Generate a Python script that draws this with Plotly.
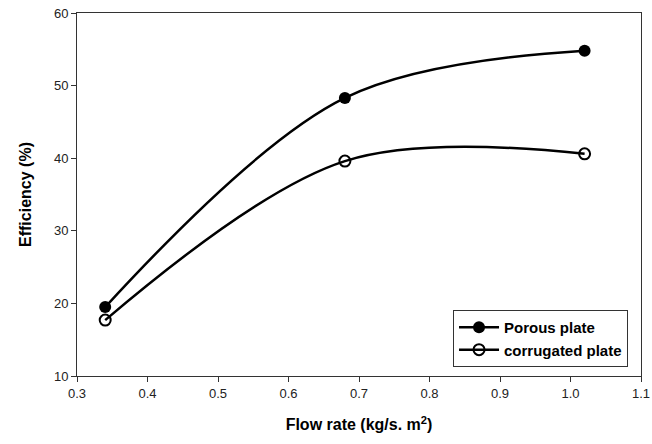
import plotly.graph_objects as go

flow_rate = [0.34, 0.68, 1.02]
porous = [19.5, 48.3, 54.8]
corrugated = [17.7, 39.6, 40.6]

x_ticks = [0.3, 0.4, 0.5, 0.6, 0.7, 0.8, 0.9, 1.0, 1.1]
x_tick_labels = ["0.3", "0.4", "0.5", "0.6", "0.7", "0.8", "0.9", "1.0", "1.1"]
y_ticks = [10, 20, 30, 40, 50, 60]

FONT = "Liberation Sans, Arial, sans-serif"

fig = go.Figure()
fig.add_trace(go.Scatter(
    x=flow_rate, y=porous, name="<b>Porous plate</b>", mode="lines+markers",
    line=dict(color="black", width=2.5, shape="spline", smoothing=1.0),
    marker=dict(symbol="circle", size=12, color="black"),
))
fig.add_trace(go.Scatter(
    x=flow_rate, y=corrugated, name="<b>corrugated plate</b>", mode="lines+markers",
    line=dict(color="black", width=2.5, shape="spline", smoothing=1.0),
    marker=dict(symbol="circle-open", size=11, color="black", line=dict(width=2, color="black")),
))

axis_common = dict(showline=True, linecolor="#333", linewidth=1, mirror=True,
                   ticks="outside", ticklen=5, tickcolor="#333", showgrid=False,
                   zeroline=False, automargin=False, ticklabeloverflow="allow",
                   tickfont=dict(family=FONT, size=13, color="#222"))

fig.update_layout(
    width=652, height=444,
    margin=dict(l=77, r=11, t=13, b=68),
    plot_bgcolor="white", paper_bgcolor="white",
    font=dict(family=FONT, color="black"),
    xaxis=dict(range=[0.3, 1.1], tickvals=x_ticks, ticktext=x_tick_labels,
               title=dict(text="<b>Flow rate (kg/s. m<sup>2</sup>)</b>", font=dict(size=16), standoff=19),
               **axis_common),
    yaxis=dict(range=[10, 60], tickvals=y_ticks,
               title=dict(text="<b>Efficiency (%)</b>", font=dict(size=16), standoff=18),
               **axis_common),
    legend=dict(x=0.977, y=0.025, xanchor="right", yanchor="bottom",
                bordercolor="#333", borderwidth=1, bgcolor="white",
                font=dict(family=FONT, size=15), itemwidth=40, tracegroupgap=0),
    showlegend=True,
)

fig.write_html("out.html", config={"displayModeBar": False},
               post_script="document.body.style.margin='0';document.body.style.overflow='hidden';")
